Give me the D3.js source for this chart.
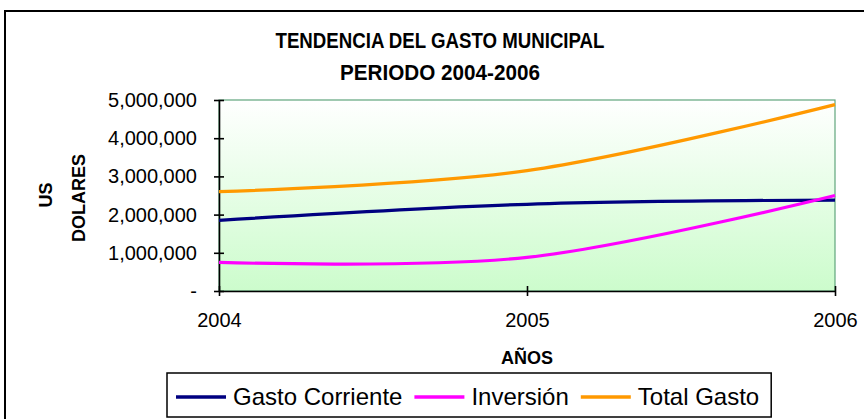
<!DOCTYPE html>
<html>
<head>
<meta charset="utf-8">
<script src="https://cdn.jsdelivr.net/npm/d3@7"></script>
<style>
  html, body { margin: 0; padding: 0; background: #fff; }
  svg { display: block; font-family: "Liberation Sans", Arial, sans-serif; }
</style>
</head>
<body>
<svg id="chart" width="864" height="419"></svg>
<script>
// Municipal spending by year (US dollars)
const years = ["2004", "2005", "2006"];
const gastoCorriente = [1850000, 2270000, 2380000];
const inversion = [750000, 880000, 2500000];
const totalGasto = [2600000, 3150000, 4880000];
const yTicks = [0, 1000000, 2000000, 3000000, 4000000, 5000000];

const seriesNames = ["Gasto Corriente", "Inversión", "Total Gasto"];
const seriesValues = [gastoCorriente, inversion, totalGasto];
const seriesColors = ["#000080", "#ff00ff", "#ff9900"];

const svg = d3.select("#chart");

// outer chart frame
svg.append("rect")
  .attr("x", 5).attr("y", 11)
  .attr("width", 880).attr("height", 430)
  .attr("fill", "#fff").attr("stroke", "#000").attr("stroke-width", 2);

const plot = { left: 219, right: 835, top: 100, bottom: 291 };

const x = d3.scalePoint().domain(years).range([plot.left, plot.right]);
const y = d3.scaleLinear().domain([0, 5000000]).range([plot.bottom, plot.top]);

// plot background gradient
const defs = svg.append("defs");
const grad = defs.append("linearGradient")
  .attr("id", "plotBg").attr("x1", 0).attr("y1", 0).attr("x2", 0).attr("y2", 1);
grad.append("stop").attr("offset", "0%").attr("stop-color", "#ffffff");
grad.append("stop").attr("offset", "100%").attr("stop-color", "#ccfccc");

svg.append("rect")
  .attr("x", plot.left).attr("y", plot.top)
  .attr("width", plot.right - plot.left).attr("height", plot.bottom - plot.top)
  .attr("fill", "url(#plotBg)")
  .attr("stroke", "#5fa57c").attr("stroke-width", 1.2);

// titles
svg.append("text")
  .attr("x", 440).attr("y", 48)
  .attr("text-anchor", "middle")
  .attr("font-size", 22).attr("font-weight", "bold")
  .attr("textLength", 329).attr("lengthAdjust", "spacingAndGlyphs")
  .text("TENDENCIA DEL GASTO MUNICIPAL");
svg.append("text")
  .attr("x", 440).attr("y", 80)
  .attr("text-anchor", "middle")
  .attr("font-size", 22).attr("font-weight", "bold")
  .attr("textLength", 200).attr("lengthAdjust", "spacingAndGlyphs")
  .text("PERIODO 2004-2006");

// y axis
const yAxis = d3.axisLeft(y)
  .tickValues(yTicks)
  .tickSize(0)
  .tickPadding(22)
  .tickFormat(d => d === 0 ? "-" : d3.format(",")(d));
const gy = svg.append("g").attr("transform", `translate(${plot.left},0)`).call(yAxis);
gy.select(".domain").attr("stroke", "#000").attr("stroke-width", 1.6);
gy.selectAll(".tick text").attr("font-size", 20).attr("fill", "#000")
  .attr("font-family", "'Liberation Sans', Arial, sans-serif");
gy.selectAll(".tick").append("line")
  .attr("x1", -5).attr("x2", 5).attr("stroke", "#000").attr("stroke-width", 1.6);

// x axis
const xAxis = d3.axisBottom(x).tickSize(0).tickPadding(22);
const gx = svg.append("g").attr("transform", `translate(0,${plot.bottom})`).call(xAxis);
gx.select(".domain").attr("stroke", "#000").attr("stroke-width", 1.6);
gx.selectAll(".tick text").attr("font-size", 20).attr("fill", "#000")
  .attr("font-family", "'Liberation Sans', Arial, sans-serif");
gx.selectAll(".tick").append("line")
  .attr("y1", -5).attr("y2", 5).attr("stroke", "#000").attr("stroke-width", 1.6);

// axis titles
svg.append("text")
  .attr("transform", "translate(52,195) rotate(-90)")
  .attr("text-anchor", "middle")
  .attr("font-size", 18).attr("font-weight", "bold")
  .text("US");
svg.append("text")
  .attr("transform", "translate(85,198) rotate(-90)")
  .attr("text-anchor", "middle")
  .attr("font-size", 18).attr("font-weight", "bold")
  .text("DOLARES");
svg.append("text")
  .attr("x", 527).attr("y", 364)
  .attr("text-anchor", "middle")
  .attr("font-size", 18).attr("font-weight", "bold")
  .text("AÑOS");

// smoothed series lines
const line = d3.line()
  .x((d, i) => x(years[i]))
  .y(d => y(d))
  .curve(d3.curveCardinal.tension(0));

svg.append("g").selectAll("path")
  .data(seriesValues)
  .join("path")
  .attr("d", d => line(d))
  .attr("fill", "none")
  .attr("stroke", (d, i) => seriesColors[i])
  .attr("stroke-width", 3.2)
  .attr("stroke-linejoin", "round");

// legend
const legend = svg.append("g");
const legendBox = legend.append("rect")
  .attr("x", 167).attr("y", 373)
  .attr("height", 44)
  .attr("fill", "#fff").attr("stroke", "#000").attr("stroke-width", 1.5);

let cx = 176;
seriesNames.forEach((name, i) => {
  legend.append("line")
    .attr("x1", cx).attr("x2", cx + 50)
    .attr("y1", 397).attr("y2", 397)
    .attr("stroke", seriesColors[i]).attr("stroke-width", 3.5);
  const t = legend.append("text")
    .attr("x", cx + 57).attr("y", 405)
    .attr("font-size", 24).attr("fill", "#000")
    .text(name);
  cx += 57 + t.node().getComputedTextLength() + 12;
});
legendBox.attr("width", cx - 167);
</script>
</body>
</html>
